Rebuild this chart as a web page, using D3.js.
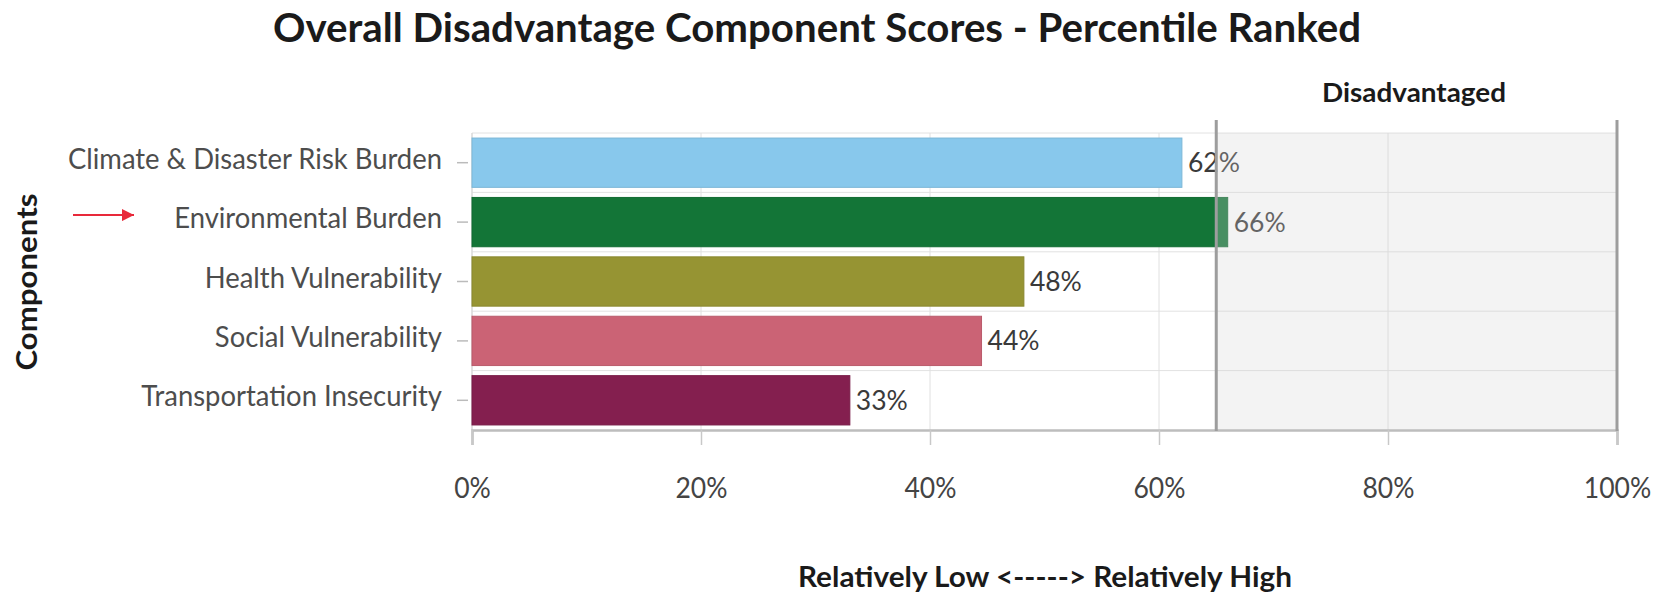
<!DOCTYPE html>
<html>
<head>
<meta charset="utf-8">
<script src="https://cdn.jsdelivr.net/npm/d3@7"></script>
<style>
  html, body { margin: 0; padding: 0; background: #fff; }
  svg { display: block; font-family: Lato, "Open Sans", sans-serif; }
</style>
</head>
<body>
<svg id="chart" width="1663" height="594"></svg>
<script>
// ---- data ----
const categories = ["Climate & Disaster Risk Burden", "Environmental Burden", "Health Vulnerability", "Social Vulnerability", "Transportation Insecurity"];
const values = [0.62, 0.66, 0.482, 0.445, 0.33];
const colors = ["#88c8ec", "#137537", "#969433", "#cb6375", "#841f4f"];
const tickValues = [0, 0.2, 0.4, 0.6, 0.8, 1.0];
const tickLabels = ["0%", "20%", "40%", "60%", "80%", "100%"];
const threshold = 0.65;
const titleText = "Overall Disadvantage Component Scores - Percentile Ranked";
const regionLabel = "Disadvantaged";
const xTitle = "Relatively Low <-----> Relatively High";
const yTitle = "Components";
const highlighted = "Environmental Burden";

// ---- layout ----
const svg = d3.select("#chart");
const X0 = 472, X1 = 1617, Y0 = 133, Y1 = 430;

const x = d3.scaleLinear().domain([0, 1]).range([X0, X1]);
const y = d3.scaleBand().domain(categories).range([Y0, Y1]).paddingInner(0.17).paddingOuter(0.085);

function squeeze(sel, ref, target) {
  // horizontally condense text to match the reference's narrow glyphs
  const tmp = svg.append("text").attr("font-size", sel.attr("font-size")).attr("font-weight", sel.attr("font-weight")).text(ref);
  const w = tmp.node().getComputedTextLength();
  tmp.remove();
  const k = target / w;
  sel.each(function () {
    const wl = this.getComputedTextLength();
    d3.select(this).attr("textLength", wl * k).attr("lengthAdjust", "spacingAndGlyphs");
  });
}

// horizontal grid lines at band boundaries
const step = y.step();
const bounds = d3.range(categories.length + 1).map(i => Y0 + i * step);
svg.append("g").selectAll("line").data(bounds.slice(0, -1)).join("line")
  .attr("x1", X0).attr("x2", X1).attr("y1", d => d).attr("y2", d => d)
  .attr("stroke", "#e2e2e2").attr("stroke-width", 1);

// vertical grid lines
svg.append("g").selectAll("line").data(tickValues.slice(1, -1)).join("line")
  .attr("x1", d => x(d)).attr("x2", d => x(d)).attr("y1", Y0).attr("y2", Y1)
  .attr("stroke", "#e0e0e0").attr("stroke-width", 1);

// y axis line
svg.append("line").attr("x1", X0).attr("x2", X0).attr("y1", Y0).attr("y2", Y1)
  .attr("stroke", "#d8d8d8").attr("stroke-width", 1.5);

// bars
svg.append("g").selectAll("rect").data(categories).join("rect")
  .attr("x", X0)
  .attr("y", d => y(d))
  .attr("width", (d, i) => x(values[i]) - X0)
  .attr("height", y.bandwidth())
  .attr("fill", (d, i) => colors[i])
  .attr("stroke", (d, i) => d3.color(colors[i]).darker(0.25))
  .attr("stroke-width", 1);

// value labels (percentile shown truncated)
const vl = svg.append("g").selectAll("text").data(categories).join("text")
  .attr("x", (d, i) => x(values[i]) + 6)
  .attr("y", d => y(d) + y.bandwidth() / 2 + 9.5)
  .attr("font-size", 27)
  .attr("fill", "#3a3a3a")
  .text((d, i) => Math.floor(values[i] * 100 + 1e-6) + "%");
squeeze(vl, "62%", 52);

// disadvantaged overlay region
svg.append("rect")
  .attr("x", x(threshold)).attr("y", Y0)
  .attr("width", x(1) - x(threshold)).attr("height", Y1 - Y0)
  .attr("fill", "rgb(213,213,213)").attr("fill-opacity", 0.28);

// x axis
const xAxis = d3.axisBottom(x).tickValues(tickValues)
  .tickFormat((d, i) => tickLabels[i]).tickSize(15).tickPadding(0);
const gx = svg.append("g").attr("transform", `translate(0,${Y1})`).call(xAxis);
gx.select(".domain").attr("stroke", "#bdbdbd").attr("stroke-width", 2.5);
gx.selectAll(".tick line").attr("stroke", "#c8c8c8").attr("stroke-width", 1.5);
const tl = gx.selectAll(".tick text")
  .attr("y", 68).attr("dy", null)
  .attr("font-size", 29).attr("font-family", "Lato, sans-serif").attr("fill", "#444");
squeeze(tl, "20%", 52);

// threshold and end lines
svg.append("g").selectAll("line").data([threshold, 1]).join("line")
  .attr("x1", d => x(d)).attr("x2", d => x(d)).attr("y1", Y0 - 13).attr("y2", Y1 + 1)
  .attr("stroke", "#9d9d9d").attr("stroke-width", 3);

// y axis ticks and labels
const gy = svg.append("g");
gy.selectAll("line").data(categories).join("line")
  .attr("x1", X0 - 15).attr("x2", X0 - 4)
  .attr("y1", d => y(d) + y.bandwidth() / 2).attr("y2", d => y(d) + y.bandwidth() / 2)
  .attr("stroke", "#bbb").attr("stroke-width", 1.5);
const cl = gy.selectAll("text").data(categories).join("text")
  .attr("x", 442)
  .attr("y", d => y(d) + y.bandwidth() / 2 + 6)
  .attr("text-anchor", "end")
  .attr("font-size", 29)
  .attr("fill", "#4d4d4d")
  .text(d => d);
squeeze(cl, categories[0], 374);

// title
const tt = svg.append("text").attr("x", 817).attr("y", 42)
  .attr("text-anchor", "middle").attr("font-size", 40).attr("font-weight", 700)
  .attr("fill", "#1a1a1a").text(titleText);
squeeze(tt, titleText, 1088);

// region label
const rl = svg.append("text").attr("x", 1414).attr("y", 102)
  .attr("text-anchor", "middle").attr("font-size", 27).attr("font-weight", 700)
  .attr("fill", "#1a1a1a").text(regionLabel);
squeeze(rl, regionLabel, 184);

// x title
const xt = svg.append("text").attr("x", 1045).attr("y", 587)
  .attr("text-anchor", "middle").attr("font-size", 28).attr("font-weight", 700)
  .attr("fill", "#1a1a1a").text(xTitle);
squeeze(xt, xTitle, 494);

// y title
const yt = svg.append("text").attr("transform", "translate(37,282) rotate(-90)")
  .attr("text-anchor", "middle").attr("font-size", 28).attr("font-weight", 700)
  .attr("fill", "#1a1a1a").text(yTitle);
squeeze(yt, yTitle, 177);

// red annotation arrow pointing at the highlighted component
const ay = y(highlighted) + y.bandwidth() / 2;
svg.append("defs").append("marker").attr("id", "arr")
  .attr("viewBox", "0 0 10 10").attr("refX", 10).attr("refY", 5)
  .attr("markerWidth", 7).attr("markerHeight", 6).attr("markerUnits", "strokeWidth")
  .attr("orient", "auto")
  .append("path").attr("d", "M0,0 L10,5 L0,10 Z").attr("fill", "#e8293a");
svg.append("line").attr("x1", 73).attr("x2", 134).attr("y1", ay - 7).attr("y2", ay - 7)
  .attr("stroke", "#e8293a").attr("stroke-width", 2).attr("marker-end", "url(#arr)");
</script>
</body>
</html>
